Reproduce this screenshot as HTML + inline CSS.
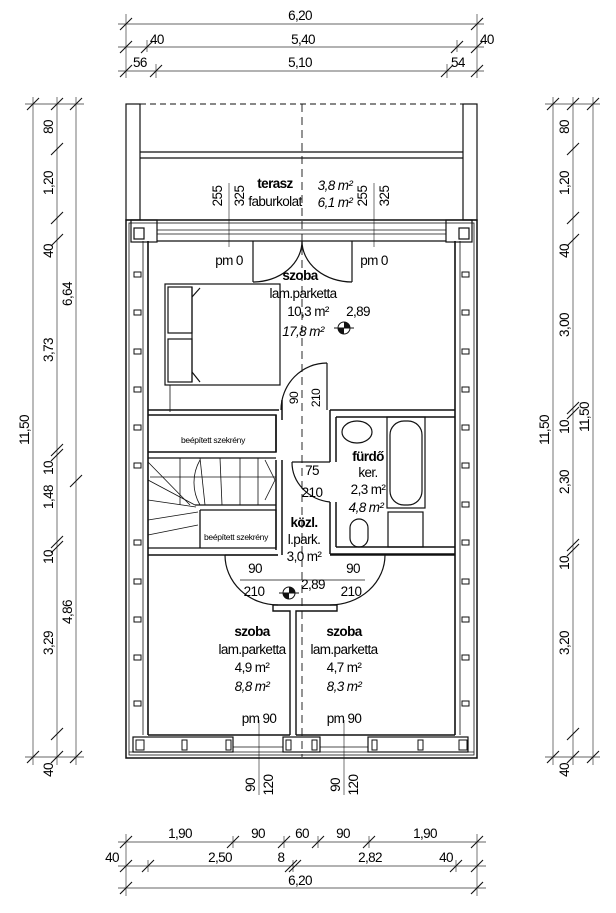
<!DOCTYPE html>
<html><head><meta charset="utf-8"><style>
html,body{margin:0;padding:0;background:#fff;}
svg{display:block;font-family:"Liberation Sans",sans-serif;}
text{font-size:13.5px;fill:#000;letter-spacing:-0.6px}
.b{font-weight:bold}.i{font-style:italic}
.s{font-size:8.5px;letter-spacing:-0.3px}
</style></head><body>
<svg width="616" height="913" viewBox="0 0 616 913" xmlns="http://www.w3.org/2000/svg">
<defs>
<g id="tk"><line x1="-6" y1="6" x2="6" y2="-6" stroke="#111" stroke-width="1.1"/></g>
</defs>
<g stroke="#666" stroke-width="0.9" fill="none">
<line x1="118" y1="24" x2="484" y2="24"/>
<line x1="118" y1="47" x2="484" y2="47"/>
<line x1="118" y1="71" x2="484" y2="71"/>
<line x1="126" y1="14" x2="126" y2="78"/><line x1="477" y1="14" x2="477" y2="78"/>
<line x1="147" y1="40" x2="147" y2="52"/><line x1="457" y1="40" x2="457" y2="52"/>
<line x1="156" y1="64" x2="156" y2="78"/><line x1="447" y1="64" x2="447" y2="78"/>
<line x1="33" y1="97" x2="33" y2="765"/>
<line x1="57" y1="97" x2="57" y2="765"/>
<line x1="76" y1="97" x2="76" y2="765"/>
<line x1="25" y1="104" x2="84" y2="104"/><line x1="25" y1="757" x2="84" y2="757"/>
<line x1="553" y1="97" x2="553" y2="765"/>
<line x1="573" y1="97" x2="573" y2="765"/>
<line x1="593" y1="97" x2="593" y2="765"/>
<line x1="545" y1="104" x2="600" y2="104"/><line x1="545" y1="757" x2="600" y2="757"/>
<line x1="118" y1="842" x2="486" y2="842"/>
<line x1="118" y1="866" x2="486" y2="866"/>
<line x1="118" y1="888" x2="486" y2="888"/>
<line x1="126" y1="834" x2="126" y2="896"/><line x1="477" y1="834" x2="477" y2="896"/>
<line x1="233" y1="836" x2="233" y2="848"/><line x1="284" y1="836" x2="284" y2="848"/><line x1="318" y1="836" x2="318" y2="848"/><line x1="369" y1="836" x2="369" y2="848"/>
<line x1="148" y1="860" x2="148" y2="872"/><line x1="293" y1="860" x2="293" y2="872"/><line x1="456" y1="860" x2="456" y2="872"/>
<line x1="259" y1="720" x2="259" y2="795"/><line x1="344" y1="720" x2="344" y2="795"/>
<line x1="229" y1="183" x2="229" y2="247"/><line x1="374" y1="183" x2="374" y2="247"/>
</g>
<g>
<use href="#tk" x="126" y="24"/><use href="#tk" x="477" y="24"/>
<use href="#tk" x="126" y="47"/><use href="#tk" x="147" y="47"/><use href="#tk" x="457" y="47"/><use href="#tk" x="477" y="47"/>
<use href="#tk" x="126" y="71"/><use href="#tk" x="156" y="71"/><use href="#tk" x="447" y="71"/><use href="#tk" x="477" y="71"/>
<use href="#tk" x="33" y="104"/><use href="#tk" x="33" y="757"/>
<use href="#tk" x="57" y="104"/><use href="#tk" x="57" y="149"/><use href="#tk" x="57" y="218"/><use href="#tk" x="57" y="240"/><use href="#tk" x="57" y="450"/><use href="#tk" x="57" y="455"/><use href="#tk" x="57" y="542"/><use href="#tk" x="57" y="547"/><use href="#tk" x="57" y="734"/><use href="#tk" x="57" y="757"/>
<use href="#tk" x="76" y="104"/><use href="#tk" x="76" y="481"/><use href="#tk" x="76" y="757"/>
<use href="#tk" x="553" y="104"/><use href="#tk" x="553" y="757"/>
<use href="#tk" x="573" y="104"/><use href="#tk" x="573" y="149"/><use href="#tk" x="573" y="218"/><use href="#tk" x="573" y="240"/><use href="#tk" x="573" y="408"/><use href="#tk" x="573" y="413"/><use href="#tk" x="573" y="545"/><use href="#tk" x="573" y="550"/><use href="#tk" x="573" y="734"/><use href="#tk" x="573" y="757"/>
<use href="#tk" x="593" y="104"/><use href="#tk" x="593" y="757"/>
<use href="#tk" x="126" y="842"/><use href="#tk" x="233" y="842"/><use href="#tk" x="284" y="842"/><use href="#tk" x="318" y="842"/><use href="#tk" x="369" y="842"/><use href="#tk" x="477" y="842"/>
<use href="#tk" x="126" y="866"/><use href="#tk" x="148" y="866"/><use href="#tk" x="291" y="866"/><use href="#tk" x="295" y="866"/><use href="#tk" x="456" y="866"/><use href="#tk" x="477" y="866"/>
<use href="#tk" x="126" y="888"/><use href="#tk" x="477" y="888"/>
</g>
<text x="300" y="20" text-anchor="middle">6,20</text>
<text x="150" y="44">40</text><text x="303" y="44" text-anchor="middle">5,40</text><text x="480" y="44">40</text>
<text x="133" y="67">56</text><text x="300" y="67" text-anchor="middle">5,10</text><text x="451" y="67">54</text>
<g text-anchor="middle">
<text transform="translate(29,430) rotate(-90)">11,50</text>
<text transform="translate(53,127) rotate(-90)">80</text>
<text transform="translate(53,183) rotate(-90)">1,20</text>
<text transform="translate(53,251) rotate(-90)">40</text>
<text transform="translate(53,350) rotate(-90)">3,73</text>
<text transform="translate(53,468) rotate(-90)">10</text>
<text transform="translate(53,497) rotate(-90)">1,48</text>
<text transform="translate(53,557) rotate(-90)">10</text>
<text transform="translate(53,643) rotate(-90)">3,29</text>
<text transform="translate(53,770) rotate(-90)">40</text>
<text transform="translate(72,294) rotate(-90)">6,64</text>
<text transform="translate(72,612) rotate(-90)">4,86</text>
<text transform="translate(549,430) rotate(-90)">11,50</text>
<text transform="translate(569,127) rotate(-90)">80</text>
<text transform="translate(569,183) rotate(-90)">1,20</text>
<text transform="translate(569,251) rotate(-90)">40</text>
<text transform="translate(569,325) rotate(-90)">3,00</text>
<text transform="translate(569,427) rotate(-90)">10</text>
<text transform="translate(569,482) rotate(-90)">2,30</text>
<text transform="translate(569,563) rotate(-90)">10</text>
<text transform="translate(569,643) rotate(-90)">3,20</text>
<text transform="translate(569,770) rotate(-90)">40</text>
<text transform="translate(589,417) rotate(-90)">11,50</text>
<text transform="translate(222,196) rotate(-90)">255</text>
<text transform="translate(244,196) rotate(-90)">325</text>
<text transform="translate(367,196) rotate(-90)">255</text>
<text transform="translate(389,196) rotate(-90)">325</text>
<text transform="translate(255,785) rotate(-90)">90</text>
<text transform="translate(273,785) rotate(-90)">120</text>
<text transform="translate(340,785) rotate(-90)">90</text>
<text transform="translate(358,785) rotate(-90)">120</text>
<text x="180" y="838">1,90</text><text x="258" y="838">90</text><text x="302" y="838">60</text><text x="343" y="838">90</text><text x="425" y="838">1,90</text>
<text x="112" y="862">40</text><text x="220" y="862">2,50</text><text x="281" y="862">8</text><text x="370" y="862">2,82</text><text x="446" y="862">40</text>
<text x="300" y="885">6,20</text>
</g>
<g stroke="#111" fill="none" stroke-width="1.2">
<line x1="140" y1="104" x2="463" y2="104" stroke-dasharray="6,4" stroke-width="1"/>
<rect x="126" y="104" width="14" height="116"/><rect x="463" y="104" width="14" height="116"/>
<line x1="140" y1="152" x2="463" y2="152"/><line x1="140" y1="158" x2="463" y2="158"/>
<rect x="126" y="220" width="351" height="538" stroke-width="1.5"/>
<rect x="129" y="223" width="345" height="532" stroke-width="0.8"/>
<rect x="131" y="220" width="26" height="22"/><rect x="446" y="220" width="26" height="22"/>
<rect x="134" y="228" width="10" height="11"/><rect x="459" y="228" width="10" height="11"/>
<line x1="157" y1="230" x2="446" y2="230" stroke-width="0.8"/><line x1="157" y1="234" x2="446" y2="234" stroke-width="0.8"/>
<line x1="157" y1="241" x2="446" y2="241"/>
<line x1="148" y1="241" x2="148" y2="735" stroke-width="1.6"/>
<line x1="455" y1="241" x2="455" y2="735" stroke-width="1.6"/>
<line x1="143" y1="241" x2="143" y2="735" stroke-width="0.8"/>
<line x1="460" y1="241" x2="460" y2="735" stroke-width="0.8"/>
<line x1="148" y1="735" x2="290" y2="735" stroke-width="1.6"/>
<line x1="296" y1="735" x2="455" y2="735" stroke-width="1.6"/>
<rect x="133" y="737" width="100" height="15"/><rect x="368" y="737" width="100" height="15"/>
<rect x="283" y="737" width="37" height="15"/>
<line x1="233" y1="747" x2="283" y2="747" stroke-width="0.8"/><line x1="320" y1="747" x2="368" y2="747" stroke-width="0.8"/>
<line x1="129" y1="752" x2="474" y2="752" stroke-width="0.8"/>
<rect x="165" y="284" width="115" height="101"/>
<rect x="168" y="287" width="24" height="46"/><rect x="168" y="339" width="24" height="43"/>
<line x1="192" y1="287" x2="192" y2="382"/>
<line x1="192" y1="297" x2="200" y2="288"/><line x1="192" y1="372" x2="200" y2="382"/>
<line x1="170" y1="385" x2="170" y2="412" stroke-width="0.8"/>
<line x1="253" y1="241" x2="253" y2="282"/><path d="M253,282 A49,41 0 0 0 302,241"/>
<line x1="352" y1="241" x2="352" y2="282"/><path d="M352,282 A50,41 0 0 1 302,241"/>
<path d="M148,410 H279 M148,415 H276 V452 H148" stroke-width="1.5"/>
<path d="M330,410 H455 M336,417 H455" stroke-width="1.5"/>
<path d="M276,415 V452 M282,400 V420 M276,460 V550 M282,460 V555" stroke-width="1.5"/>
<line x1="327" y1="363" x2="327" y2="410"/><path d="M281,410 A46,47 0 0 1 327,363"/>
<path d="M330,410 V462 M336,417 V462 M330,502 V554 M336,502 V547 M336,547 H455 M330,554 H455" stroke-width="1.5"/>
<rect x="387" y="417" width="38" height="91"/>
<rect x="390" y="421" width="32" height="84" rx="14"/>
<rect x="388" y="512" width="35" height="35"/>
<ellipse cx="357" cy="432" rx="15" ry="11"/>
<rect x="350" y="519" width="18" height="28" rx="9"/>
<path d="M292,462 A43,40 0 0 0 330,502"/>
<line x1="292" y1="462" x2="330" y2="462"/>
<path d="M148,458 H276 M148,548 H276 M200,510 H276 V548 M200,510 V548 M195,505 H276" stroke-width="1.3"/>
<g stroke-width="0.8">
<line x1="180" y1="458" x2="180" y2="505"/><line x1="200" y1="458" x2="205" y2="505"/><line x1="220" y1="458" x2="222" y2="505"/><line x1="240" y1="458" x2="240" y2="505"/><line x1="258" y1="458" x2="258" y2="505"/>
<line x1="148" y1="462" x2="190" y2="505"/><line x1="148" y1="480" x2="195" y2="505"/><line x1="148" y1="500" x2="196" y2="507"/><line x1="148" y1="520" x2="198" y2="512"/><line x1="148" y1="535" x2="198" y2="525"/>
<path d="M200,505 A45,45 0 0 1 200,460" />
<path d="M265,460 L275,480 L265,500"/>
<line x1="150" y1="477" x2="276" y2="477"/>
</g>
<path d="M148,555 H278 M330,555 H455" stroke-width="1.5"/>
<path d="M225,555 A53,50 0 0 0 278,605"/><line x1="225" y1="555" x2="278" y2="555"/>
<path d="M385,555 A55,50 0 0 1 330,605"/>
<line x1="240" y1="580" x2="365" y2="580" stroke-width="0.8"/>
<path d="M273,605 H337 V611 H296 V735 M290,735 V611 H273 V605" stroke-width="1.4"/>
<line x1="302" y1="104" x2="302" y2="757" stroke-dasharray="8,5" stroke-width="0.9"/>
</g>
<g fill="#fff" stroke="#111" stroke-width="1">
<rect x="134" y="272" width="7" height="5"/><rect x="134" y="310" width="7" height="5"/><rect x="134" y="349" width="7" height="5"/><rect x="134" y="387" width="7" height="5"/><rect x="134" y="425" width="7" height="5"/><rect x="134" y="463" width="7" height="5"/><rect x="134" y="540" width="7" height="5"/><rect x="134" y="579" width="7" height="5"/><rect x="134" y="617" width="7" height="5"/><rect x="134" y="655" width="7" height="5"/><rect x="134" y="701" width="7" height="5"/>
<rect x="462" y="272" width="7" height="5"/><rect x="462" y="310" width="7" height="5"/><rect x="462" y="349" width="7" height="5"/><rect x="462" y="387" width="7" height="5"/><rect x="462" y="425" width="7" height="5"/><rect x="462" y="463" width="7" height="5"/><rect x="462" y="502" width="7" height="5"/><rect x="462" y="540" width="7" height="5"/><rect x="462" y="579" width="7" height="5"/><rect x="462" y="617" width="7" height="5"/><rect x="462" y="655" width="7" height="5"/><rect x="462" y="701" width="7" height="5"/>
<rect x="136" y="740" width="8" height="10"/><rect x="182" y="740" width="5" height="10"/><rect x="226" y="740" width="5" height="10"/><rect x="286" y="740" width="5" height="10"/><rect x="312" y="740" width="5" height="10"/><rect x="372" y="740" width="5" height="10"/><rect x="418" y="740" width="5" height="10"/><rect x="459" y="740" width="8" height="10"/>
</g>
<g><circle cx="344" cy="328" r="6" fill="#fff" stroke="#111"/><path d="M344,328 V322 A6,6 0 0 1 350,328 Z M344,328 V334 A6,6 0 0 1 338,328 Z" fill="#111"/><line x1="334" y1="328" x2="354" y2="328" stroke="#111"/>
<circle cx="289" cy="593" r="6" fill="#fff" stroke="#111"/><path d="M289,593 V587 A6,6 0 0 1 295,593 Z M289,593 V599 A6,6 0 0 1 283,593 Z" fill="#111"/><line x1="279" y1="593" x2="299" y2="593" stroke="#111"/></g>
<g text-anchor="middle">
<text x="275" y="188" class="b">terasz</text><text x="275" y="206">faburkolat</text>
<text x="335" y="190" class="i">3,8 m²</text><text x="335" y="207" class="i">6,1 m²</text>
<text x="229" y="265">pm 0</text><text x="374" y="265">pm 0</text>
<text x="300" y="280" class="b">szoba</text><text x="303" y="298">lam.parketta</text>
<text x="308" y="316">10,3 m²</text><text x="303" y="336" class="i">17,8 m²</text><text x="358" y="316">2,89</text>
<text transform="translate(298,398) rotate(-90)" style="font-size:12px">90</text>
<text transform="translate(320,398) rotate(-90)" style="font-size:12px">210</text>
<text x="213" y="443" class="s">beépített szekrény</text>
<text x="236" y="540" class="s">beépített szekrény</text>
<text x="312" y="475">75</text><text x="312" y="497">210</text>
<text x="368" y="461" class="b">fürdő</text><text x="368" y="477">ker.</text><text x="368" y="494">2,3 m²</text><text x="366" y="512" class="i">4,8 m²</text>
<text x="304" y="527" class="b">közl.</text><text x="304" y="544">l.park.</text><text x="304" y="561">3,0 m²</text>
<text x="255" y="573">90</text><text x="254" y="596">210</text><text x="353" y="573">90</text><text x="351" y="596">210</text>
<text x="313" y="589">2,89</text>
<text x="252" y="636" class="b">szoba</text><text x="252" y="654">lam.parketta</text><text x="252" y="672">4,9 m²</text><text x="252" y="691" class="i">8,8 m²</text>
<text x="344" y="636" class="b">szoba</text><text x="344" y="654">lam.parketta</text><text x="344" y="672">4,7 m²</text><text x="344" y="691" class="i">8,3 m²</text>
<text x="259" y="723">pm 90</text><text x="344" y="723">pm 90</text>
</g>
</svg>
</body></html>
